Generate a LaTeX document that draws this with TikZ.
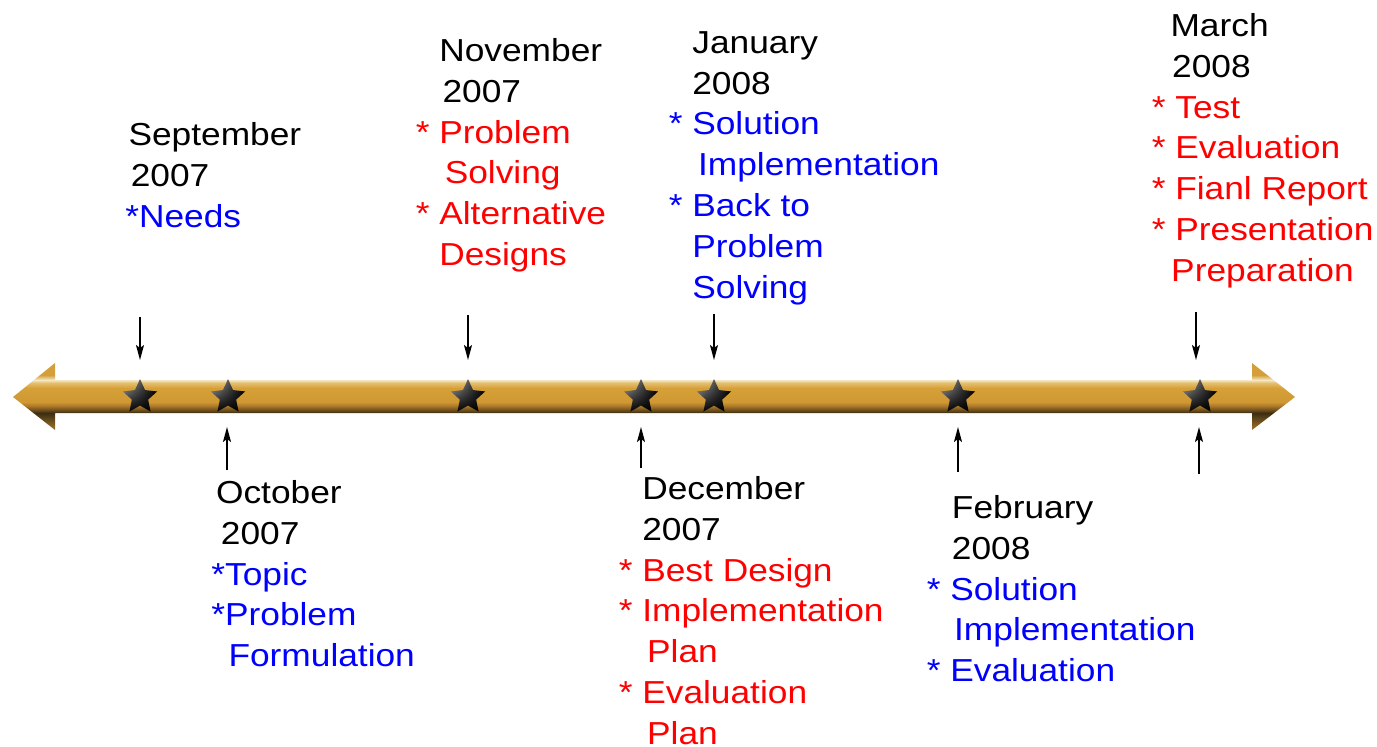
\documentclass[tikz,border=0pt]{standalone}
\usepackage{fontspec}
\setmainfont{Liberation Sans}[FakeStretch=1.11]
\usepackage{xcolor}
\usepackage{tikz}
\usetikzlibrary{shapes.geometric, arrows.meta, shadings}

\definecolor{itemblue}{RGB}{0,0,255}
\definecolor{itemred}{RGB}{255,0,0}
\definecolor{barbottom}{RGB}{165,118,40}
\definecolor{bardark}{RGB}{60,45,20}
\definecolor{barshadow}{RGB}{95,68,25}
\definecolor{barlow}{RGB}{170,120,40}
\definecolor{bargold}{RGB}{208,152,50}
\definecolor{barmid}{RGB}{214,160,56}
\definecolor{barshine}{RGB}{228,190,110}
\definecolor{barlight}{RGB}{245,232,195}
\definecolor{bartop}{RGB}{212,158,58}

% gold shading for the time bar (25bp = bottom of path, 75bp = top)
\pgfdeclareverticalshading{goldbar}{100bp}{
    color(0bp)=(barbottom); color(25bp)=(barbottom);
    color(37.7bp)=(bardark); color(39.2bp)=(barshadow);
    color(42.9bp)=(barlow); color(45.9bp)=(bargold);
    color(56.3bp)=(barmid); color(60.1bp)=(barshine);
    color(62.3bp)=(barlight); color(66bp)=(bartop);
    color(75bp)=(bartop); color(100bp)=(bartop)}

\newcommand{\datefont}{\fontsize{18.1pt}{23.25pt}\selectfont}
\newcommand{\itm}{\llap{*\ }}
\newcommand{\ind}[1]{\hspace*{#1}}
\newcommand{\dt}[1]{\textcolor{black}{#1}}

\begin{document}
\begin{tikzpicture}[
    x=0.02cm, y=-0.02cm,
    star_mark/.style={star, star points=5, star point ratio=2.1, minimum size=0.72cm, inner sep=0pt,
        upper left=gray!55, upper right=black, lower left=black, lower right=black},
    tick_down/.style={draw=black, line width=0.9pt, -{Stealth[length=0.3cm, width=0.16cm, inset=0.06cm]}, shorten >=0.74cm},
    tick_up/.style={draw=black, line width=0.9pt, -{Stealth[length=0.3cm, width=0.16cm, inset=0.06cm]}, shorten >=0.6cm},
    date_block/.style={anchor=north west, inner sep=0pt, align=left, font=\datefont},
    blue_items/.style={date_block, text=itemblue},
    red_items/.style={date_block, text=itemred}
]

\useasboundingbox (0,0) rectangle (1377,747);

% Time bar with a head at each end
\shade[shading=goldbar] (13,397) -- (55,363) -- (55,380) -- (1252,380) -- (1252,363)
    -- (1295,397) -- (1252,430) -- (1252,413) -- (55,413) -- (55,430) -- cycle;

% Stars on the bar
\node[star_mark] (sep_star) at (140,397) {};
\node[star_mark] (oct_star) at (228,397) {};
\node[star_mark] (nov_star) at (468,397) {};
\node[star_mark] (dec_star) at (641,397) {};
\node[star_mark] (jan_star) at (714,397) {};
\node[star_mark] (feb_star) at (958,397) {};
\node[star_mark] (mar_star) at (1200,397) {};

% Tails of the small arrows
\coordinate (sep_tail) at (140,317);
\coordinate (nov_tail) at (468,315);
\coordinate (jan_tail) at (714,314);
\coordinate (mar_tail) at (1196,312);
\coordinate (oct_tail) at (227,470);
\coordinate (dec_tail) at (641,468);
\coordinate (feb_tail) at (958,472);
\coordinate (mar_tail_b) at (1199,474);

% Arrows from above
\draw[tick_down] (sep_tail) -- (sep_tail |- sep_star);
\draw[tick_down] (nov_tail) -- (nov_tail |- nov_star);
\draw[tick_down] (jan_tail) -- (jan_tail |- jan_star);
\draw[tick_down] (mar_tail) -- (mar_tail |- mar_star);

% Arrows from below
\draw[tick_up] (oct_tail) -- (oct_tail |- oct_star);
\draw[tick_up] (dec_tail) -- (dec_tail |- dec_star);
\draw[tick_up] (feb_tail) -- (feb_tail |- feb_star);
\draw[tick_up] (mar_tail_b) -- (mar_tail_b |- mar_star);

% Texts above the bar
\node[blue_items] (sep_text) at (125,122) {\dt{\ind{0.1em}September}\\ \dt{\ind{0.17em}2007}\\ *Needs};
\node[red_items] (nov_text) at (439,38) {\dt{November}\\ \dt{\ind{0.1em}2007}\\ \itm Problem\\ \ind{0.17em}Solving\\ \itm Alternative\\ Designs};
\node[blue_items] (jan_text) at (692,31) {\dt{January}\\ \dt{2008}\\ \itm Solution\\ \ind{0.18em}Implementation\\ \itm Back to\\ Problem\\ Solving};
\node[red_items] (mar_text) at (1175,13) {\dt{\ind{-0.15em}March}\\ \dt{\ind{-0.1em}2008}\\ \itm Test\\ \itm Evaluation\\ \itm Fianl Report\\ \itm Presentation\\ \ind{-0.13em}Preparation};

% Texts below the bar
\node[blue_items] (oct_text) at (211,480) {\dt{\ind{0.15em}October}\\ \dt{\ind{0.3em}2007}\\ *Topic\\ *Problem\\ \ind{0.54em}Formulation};
\node[red_items] (dec_text) at (642,476) {\dt{December}\\ \dt{2007}\\ \itm Best Design\\ \itm Implementation\\ \ind{0.15em}Plan\\ \itm Evaluation\\ \ind{0.15em}Plan};
\node[blue_items] (feb_text) at (950,495) {\dt{\ind{0.05em}February}\\ \dt{\ind{0.05em}2008}\\ \itm Solution\\ \ind{0.12em}Implementation\\ \itm Evaluation};

\end{tikzpicture}
\end{document}
